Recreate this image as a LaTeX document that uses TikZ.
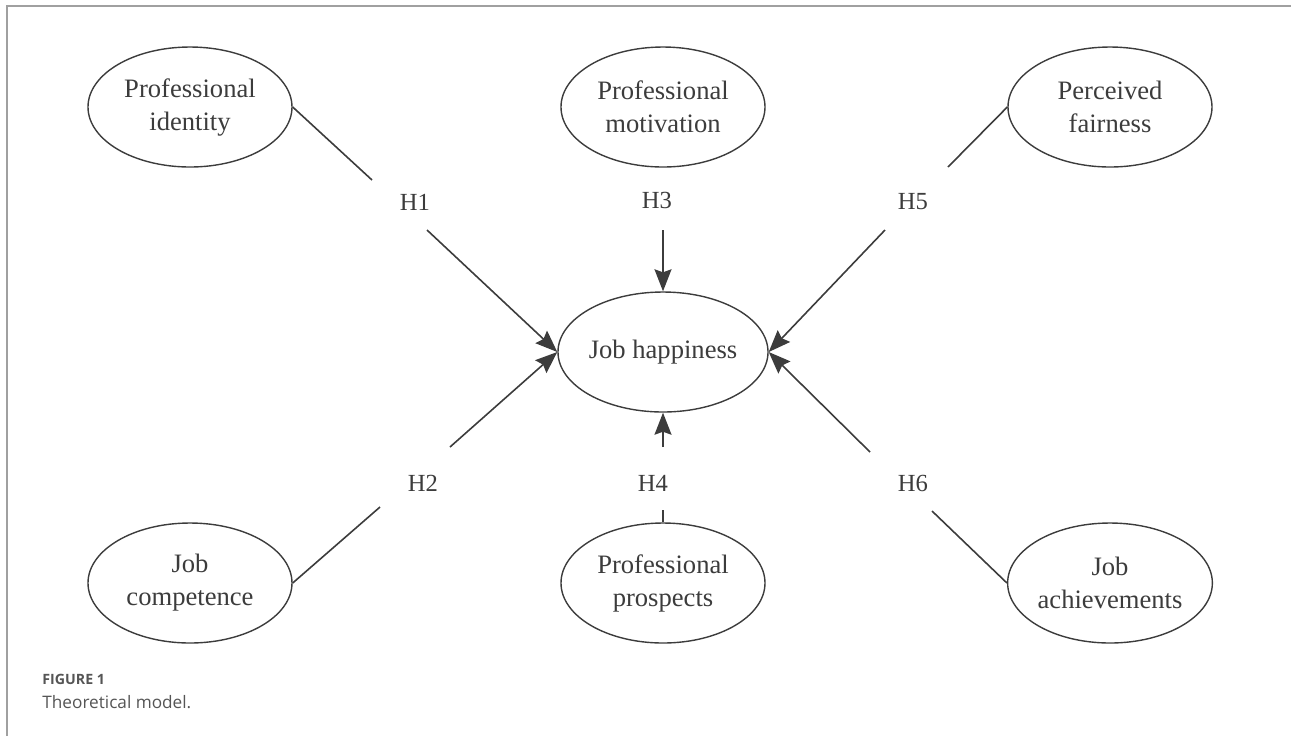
\documentclass[tikz,border=0pt]{standalone}
\usepackage{fontspec}
\setmainfont{Liberation Serif}
\newfontfamily\capfont{Open Sans}
\usetikzlibrary{arrows.meta}
\usetikzlibrary{shapes.geometric}
\usetikzlibrary{positioning}

\definecolor{linie}{RGB}{60,60,60}
\definecolor{rahmen}{RGB}{160,160,160}
\definecolor{capgrau}{RGB}{85,85,85}

\begin{document}
\begin{tikzpicture}[
	x=0.5pt,
	y=-0.5pt,
	on grid,
	pile/.style={
		line width=0.8pt,
		draw=linie,
		-{Stealth[length=11pt,width=8.5pt,inset=1.5pt]}
	},
	strich/.style={
		line width=0.8pt,
		draw=linie
	},
	knoten/.style={
		ellipse,
		draw=linie,
		line width=0.7pt,
		minimum width=102pt,
		minimum height=60pt,
		inner sep=0pt,
		align=center,
		text=linie,
		font=\fontsize{13.3}{16.5}\selectfont
	},
	hyp/.style={
		text=linie,
		font=\fontsize{12.3}{14}\selectfont
	},
	beschrift/.style={
		anchor=base west,
		inner sep=0pt,
		text=capgrau
	}
]
\useasboundingbox (0,0) rectangle (1291,736);
\draw[rahmen, line width=0.75pt] (7,736) -- (7,6) -- (1291,6);

\node[knoten] (HAPPY) at (663,352) {Job happiness};

\node[knoten] (IDENT) [above left=122.5pt and 236.5pt of HAPPY] {Professional\\identity};
\node[knoten] (MOTIV) [above=122.5pt of HAPPY] {Professional\\motivation};
\node[knoten] (FAIR) [above right=122.5pt and 223.5pt of HAPPY] {Perceived\\fairness};

\node[knoten] (COMP) [below left=115.5pt and 236.5pt of HAPPY] {Job\\competence};
\node[knoten] (PROSP) [below=115.5pt of HAPPY] {Professional\\prospects};
\node[knoten] (ACHIEV) [below right=115.5pt and 223.5pt of HAPPY] {Job\\achievements};

% Hypothesen
\node[hyp] (H1) at (415,202) {H1};
\node[hyp] (H3) at (657,200) {H3};
\node[hyp] (H5) at (913,202) {H5};
\node[hyp] (H2) at (423,483) {H2};
\node[hyp] (H4) at (653,483) {H4};
\node[hyp] (H6) at (913,483) {H6};

\coordinate (h1o) at (372,180);
\coordinate (h1u) at (427,230);
\coordinate (h3u) at (663,230);
\coordinate (h5o) at (948,167);
\coordinate (h5u) at (885,230);
\coordinate (h2o) at (450,447);
\coordinate (h2u) at (380,507);
\coordinate (h4o) at (663,447);
\coordinate (h4u) at (663,510);
\coordinate (h6o) at (870,452);
\coordinate (h6u) at (932,511);

\draw[strich] (IDENT.east) -- (h1o);
\draw[pile] (h1u) -- (HAPPY.west);
\draw[pile] (h3u) -- (HAPPY.north);
\draw[strich] (FAIR.west) -- (h5o);
\draw[pile] (h5u) -- (HAPPY.east);
\draw[strich] (COMP.east) -- (h2u);
\draw[pile] (h2o) -- (HAPPY.west);
\draw[strich] (PROSP.north) -- (h4u);
\draw[pile] (h4o) -- (HAPPY.south);
\draw[strich] (ACHIEV.west) -- (h6u);
\draw[pile] (h6o) -- (HAPPY.east);

\node[beschrift, font=\capfont\bfseries\fontsize{7.1}{8}\selectfont] (FIG) at (42,684) {FIGURE 1};
\node[beschrift, font=\capfont\fontsize{8.6}{10}\selectfont] (TITLE) at (42,708) {Theoretical model.};

\end{tikzpicture}
\end{document}
